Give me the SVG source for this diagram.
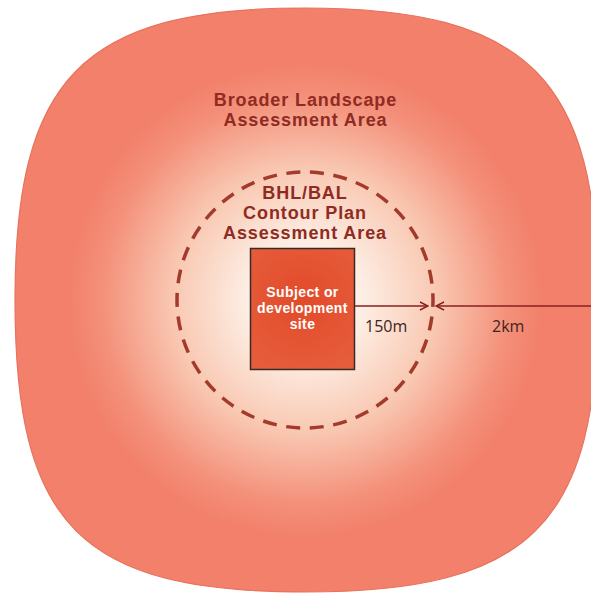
<svg xmlns="http://www.w3.org/2000/svg" width="591" height="595" viewBox="0 0 591 595">
<defs>
<radialGradient id="bg" gradientUnits="userSpaceOnUse" cx="305" cy="300" r="290">
<stop offset="0" stop-color="#fefbf8"/>
<stop offset="0.2" stop-color="#fdeee4"/>
<stop offset="0.45" stop-color="#f9c9b3"/>
<stop offset="0.7" stop-color="#f4907a"/>
<stop offset="0.82" stop-color="#f2806a"/>
<stop offset="1" stop-color="#f2806a"/>
</radialGradient>
<radialGradient id="sq" gradientUnits="userSpaceOnUse" cx="302" cy="300" r="75">
<stop offset="0" stop-color="#e24a29"/>
<stop offset="1" stop-color="#e65d3c"/>
</radialGradient>
<marker id="open" viewBox="0 0 10 10" refX="9" refY="5" markerWidth="10" markerHeight="10" markerUnits="userSpaceOnUse" orient="auto">
<path d="M1,1 L9,5 L1,9" fill="none" stroke="#8a1f1f" stroke-width="1.4"/>
</marker>
<style>
.lbl{font-family:"Liberation Sans",Arial,sans-serif;font-weight:bold;fill:#8f2b22;text-anchor:middle;font-size:18px;letter-spacing:0.9px}
.site{font-family:"Liberation Sans",Arial,sans-serif;font-weight:bold;fill:#ffffff;text-anchor:middle;font-size:14px;letter-spacing:0.4px}
.dim{font-family:"Open Sans","Liberation Sans",sans-serif;fill:#3e2420;font-size:16px}
.conn{stroke:#8a1f1f;stroke-width:1.6;fill:none}
</style>
</defs>
<g id="landscape">
<path d="M15,300 C15,80 80,8 305,8 C530,8 598,80 598,300 C598,525 530,592 305,592 C80,592 15,525 15,300 Z" fill="url(#bg)" stroke="#e8735d" stroke-width="1.2"/>
<text class="lbl" x="305.5" y="105.8">Broader Landscape</text>
<text class="lbl" x="305.5" y="125.9">Assessment Area</text>
</g>
<g id="contour">
<circle cx="305" cy="300" r="128" fill="none" stroke="#a43a2b" stroke-width="3.5" stroke-dasharray="14 9.65" stroke-dashoffset="7"/>
<text class="lbl" x="305" y="199.2">BHL/BAL</text>
<text class="lbl" x="305" y="219.3">Contour Plan</text>
<text class="lbl" x="305" y="239.4">Assessment Area</text>
</g>
<g id="site">
<rect x="250.5" y="248.5" width="104" height="121" fill="url(#sq)" stroke="#3b2a24" stroke-width="1.5"/>
<text class="site" x="302.5" y="297">Subject or</text>
<text class="site" x="302.5" y="313">development</text>
<text class="site" x="302.5" y="329">site</text>
</g>
<g id="connectors">
<line class="conn" x1="355" y1="306" x2="428" y2="306" marker-end="url(#open)"/>
<line class="conn" x1="591" y1="306" x2="436" y2="306" marker-end="url(#open)"/>
<text class="dim" x="365" y="332">150m</text>
<text class="dim" x="492" y="332">2km</text>
</g>
</svg>
